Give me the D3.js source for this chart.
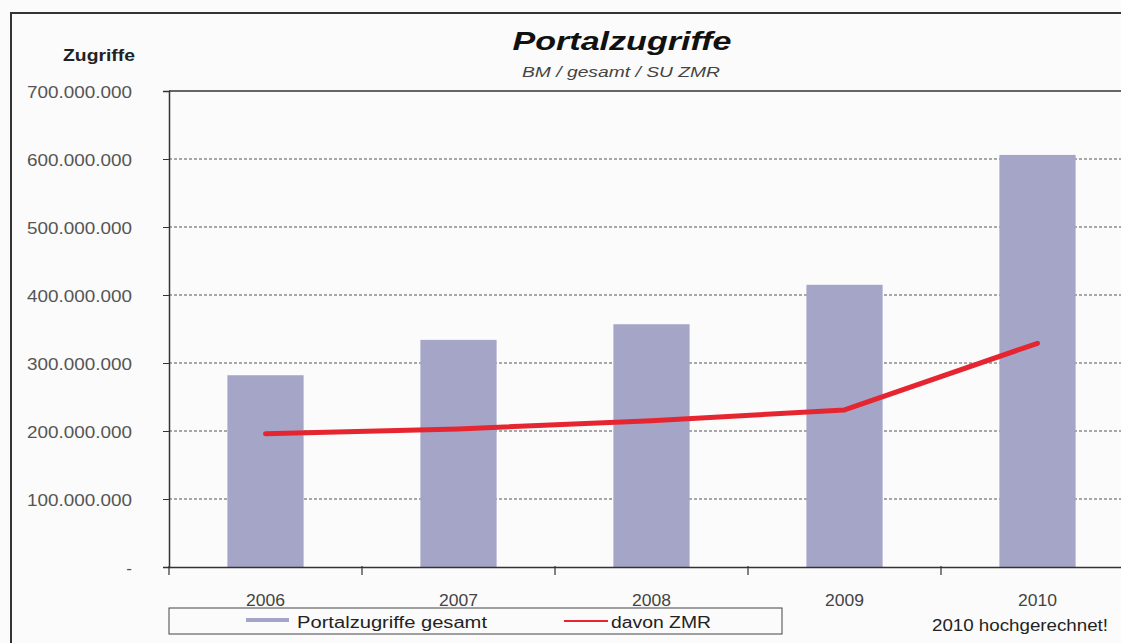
<!DOCTYPE html>
<html><head><meta charset="utf-8">
<script src="https://cdn.jsdelivr.net/npm/d3@7"></script>
<style>body{margin:0;background:#fbfbfb;overflow:hidden}svg{display:block}</style>
</head><body>
<svg id="c" width="1121" height="643"></svg>
<script>
const categories = ["2006","2007","2008","2009","2010"];
const totalValues = [282000000, 334000000, 357000000, 415000000, 606000000];
const zmrValues = [196000000, 203000000, 215000000, 231000000, 329000000];
const yTicks = [0,100000000,200000000,300000000,400000000,500000000,600000000,700000000];
const seriesNames = ["Portalzugriffe gesamt","davon ZMR"];

const svg = d3.select("#c");
const font = "Arial, 'Liberation Sans', sans-serif";
const L = 169, R = 1134, T = 91, B = 567;

// outer frame
svg.append("rect").attr("x",11).attr("y",13).attr("width",1200).attr("height",700)
  .attr("fill","#fbfbfb").attr("stroke","#333").attr("stroke-width",2);

const x = d3.scaleBand().domain(categories).range([L,R]).paddingInner(0.605).paddingOuter(0.3025);
const xb = d3.scaleBand().domain(categories).range([L,R]);
const y = d3.scaleLinear().domain([0,700000000]).range([B,T]);

// gridlines
svg.append("g").selectAll("line").data(yTicks.filter(d=>d>0 && d<700000000)).join("line")
  .attr("x1",L).attr("x2",R).attr("y1",d=>y(d)).attr("y2",d=>y(d))
  .attr("stroke","#555").attr("stroke-width",1).attr("stroke-dasharray","3,2");

// bars
svg.append("g").selectAll("rect").data(categories).join("rect")
  .attr("x",d=>x(d)).attr("width",x.bandwidth())
  .attr("y",(d,i)=>y(totalValues[i])).attr("height",(d,i)=>B-y(totalValues[i]))
  .attr("fill","#a5a5c8");

// plot top border
svg.append("line").attr("x1",L).attr("x2",R).attr("y1",T).attr("y2",T).attr("stroke","#333").attr("stroke-width",1.5);

// line
const line = d3.line().x((d,i)=>xb(categories[i])+xb.bandwidth()/2).y(d=>y(d));
svg.append("path").datum(zmrValues).attr("d",line).attr("fill","none")
  .attr("stroke","#e52630").attr("stroke-width",5).attr("stroke-linejoin","round").attr("stroke-linecap","round");

// y axis
const yAxis = d3.axisLeft(y).tickValues(yTicks).tickSize(6).tickPadding(31)
  .tickFormat(d=> d===0 ? "-" : d3.format(",")(d).replace(/,/g,"."));
const ga = svg.append("g").attr("transform",`translate(${L},0)`).call(yAxis);
ga.select(".domain").attr("stroke","#333").attr("stroke-width",1.5);
ga.selectAll(".tick line").attr("stroke","#333");
ga.selectAll("text").attr("font-family",font).attr("font-size",17).attr("fill","#555")
  .attr("dy","0.4em")
  .each(function(d){ if(d!==0) d3.select(this).attr("textLength",105).attr("lengthAdjust","spacingAndGlyphs"); });

// x axis
const xAxis = d3.axisBottom(xb).tickSize(0).tickPadding(28);
const gx = svg.append("g").attr("transform",`translate(0,${B})`).call(xAxis);
gx.select(".domain").attr("stroke","#333").attr("stroke-width",1.5);
gx.selectAll("text").attr("font-family",font).attr("font-size",16).attr("fill","#444")
  .attr("textLength",39).attr("lengthAdjust","spacingAndGlyphs");
svg.append("g").selectAll("line").data(categories).join("line")
  .attr("x1",d=>xb(d)).attr("x2",d=>xb(d)).attr("y1",B-1).attr("y2",B+8)
  .attr("stroke","#333").attr("stroke-width",1.2);

// titles
svg.append("text").attr("x",622).attr("y",50).attr("text-anchor","middle")
  .attr("font-family",font).attr("font-size",25).attr("font-weight","bold").attr("font-style","italic")
  .attr("fill","#111").attr("textLength",219).attr("lengthAdjust","spacingAndGlyphs").text("Portalzugriffe");
svg.append("text").attr("x",621).attr("y",77).attr("text-anchor","middle")
  .attr("font-family",font).attr("font-size",15).attr("font-style","italic")
  .attr("fill","#444").attr("textLength",198).attr("lengthAdjust","spacingAndGlyphs").text("BM / gesamt / SU ZMR");
svg.append("text").attr("x",63).attr("y",61)
  .attr("font-family",font).attr("font-size",16).attr("font-weight","bold")
  .attr("fill","#222").attr("textLength",72).attr("lengthAdjust","spacingAndGlyphs").text("Zugriffe");

// legend
const lg = svg.append("g");
lg.append("rect").attr("x",169).attr("y",608).attr("width",613).attr("height",26)
  .attr("fill","#fbfbfb").attr("stroke","#444").attr("stroke-width",1);
lg.append("rect").attr("x",246).attr("y",618).attr("width",43).attr("height",4).attr("fill","#a5a5c8");
lg.append("text").attr("x",297).attr("y",628).attr("font-family",font).attr("font-size",16).attr("fill","#222")
  .attr("textLength",190).attr("lengthAdjust","spacingAndGlyphs").text(seriesNames[0]);
lg.append("line").attr("x1",564).attr("x2",608).attr("y1",621).attr("y2",621).attr("stroke","#e52630").attr("stroke-width",2);
lg.append("text").attr("x",611).attr("y",628).attr("font-family",font).attr("font-size",16).attr("fill","#222")
  .attr("textLength",100).attr("lengthAdjust","spacingAndGlyphs").text(seriesNames[1]);

svg.append("text").attr("x",932).attr("y",631).attr("font-family",font).attr("font-size",16)
  .attr("fill","#222").attr("textLength",176).attr("lengthAdjust","spacingAndGlyphs").text("2010 hochgerechnet!");
</script>
</body></html>
